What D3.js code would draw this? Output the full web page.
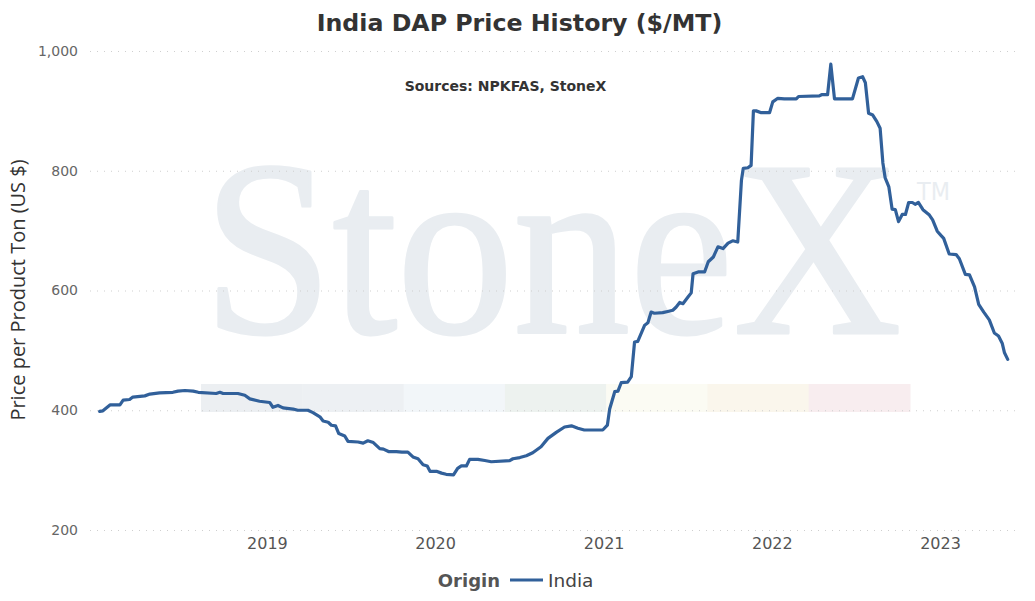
<!DOCTYPE html>
<html>
<head>
<meta charset="utf-8">
<script src="https://cdn.jsdelivr.net/npm/d3@7"></script>
<style>
  html, body { margin: 0; padding: 0; background: #fff; }
  svg { display: block; }
</style>
</head>
<body>
<svg id="chart" width="1035" height="601"></svg>
<script>
// ---- Data ----
const dates = [
  "2018-01-03","2018-01-10","2018-01-26","2018-02-16","2018-02-23","2018-03-09","2018-03-16","2018-04-11","2018-04-22","2018-05-13",
  "2018-06-11","2018-06-22","2018-07-07","2018-07-25","2018-08-05","2018-09-13","2018-09-21","2018-09-28","2018-10-30","2018-11-14",
  "2018-11-25","2018-12-16","2019-01-07","2019-01-14","2019-01-25","2019-02-05","2019-02-27","2019-03-09","2019-03-31","2019-04-11",
  "2019-04-26","2019-05-03","2019-05-14","2019-05-21","2019-05-30","2019-06-06","2019-06-19","2019-06-26","2019-07-18","2019-07-29",
  "2019-08-08","2019-08-20","2019-09-03","2019-09-11","2019-09-22","2019-10-09","2019-10-21","2019-11-03","2019-11-14","2019-11-25",
  "2019-12-06","2019-12-15","2019-12-21","2020-01-04","2020-01-15","2020-01-25","2020-02-10","2020-02-19","2020-02-27","2020-03-09",
  "2020-03-16","2020-04-03","2020-04-18","2020-05-02","2020-06-11","2020-06-18","2020-07-03","2020-07-17","2020-07-31","2020-08-18",
  "2020-09-02","2020-09-20","2020-10-08","2020-10-23","2020-11-06","2020-11-20","2020-12-30","2021-01-09","2021-01-14","2021-01-25",
  "2021-02-01","2021-02-08","2021-02-22","2021-03-02","2021-03-09","2021-03-16","2021-03-31","2021-04-07","2021-04-14","2021-04-21",
  "2021-05-09","2021-05-20","2021-05-31","2021-06-07","2021-06-15","2021-06-22","2021-07-03","2021-07-10","2021-07-14","2021-07-25",
  "2021-08-08","2021-08-16","2021-08-27","2021-09-06","2021-09-17","2021-09-28","2021-10-08","2021-10-19","2021-10-27","2021-10-31",
  "2021-11-10","2021-11-17","2021-11-22","2021-11-28","2021-12-09","2021-12-27","2022-01-03","2022-01-14","2022-01-28","2022-02-23",
  "2022-02-28","2022-04-14","2022-04-19","2022-05-02","2022-05-09","2022-05-17","2022-06-25","2022-07-08","2022-07-17","2022-07-23",
  "2022-07-30","2022-08-08","2022-08-17","2022-08-24","2022-08-30","2022-09-04","2022-09-12","2022-09-19","2022-09-26","2022-10-03",
  "2022-10-11","2022-10-18","2022-10-25","2022-11-02","2022-11-08","2022-11-15","2022-11-25","2022-12-09","2022-12-16","2022-12-26",
  "2023-01-03","2023-01-09","2023-01-21","2023-02-05","2023-02-12","2023-02-25","2023-03-06","2023-03-17","2023-03-26","2023-04-06",
  "2023-04-18","2023-04-29","2023-05-08","2023-05-16","2023-05-21","2023-05-28"
];
const prices = [
  398,399,409,409,417,418,422,424,427,429,
  430,432,433,432,430,428,430,428,428,425,
  419,415,413,405,408,404,402,400,400,396,
  389,382,380,375,374,361,357,348,347,345,
  349,346,336,335,331,331,330,330,322,319,
  309,307,298,298,295,293,292,303,307,307,
  318,318,316,314,316,319,321,324,329,339,
  353,363,372,374,370,367,367,375,402,431,
  432,446,447,456,514,515,542,546,564,562,
  563,565,567,572,580,578,589,596,628,631,
  631,648,656,673,670,679,683,681,784,804,
  805,809,900,900,897,897,915,921,920,920,
  924,925,927,927,978,920,920,955,957,947,
  896,893,882,871,813,788,773,736,735,715,
  727,727,747,747,744,747,735,726,718,699,
  692,687,661,660,653,627,626,606,577,564,
  551,529,524,512,496,485
];
const seriesName = "India";
const yTicks = [200, 400, 600, 800, 1000];
const xTickYears = [2019, 2020, 2021, 2022, 2023];
const titleText = "India DAP Price History ($/MT)";
const subtitleText = "Sources: NPKFAS, StoneX";
const yAxisTitle = "Price per Product Ton (US $)";
const legendTitle = "Origin";
const watermarkText = "StoneX";
const watermarkMark = "TM";
const bandColors = ["#eceff2", "#edf0f3", "#f2f6f9", "#edf2ef", "#fbfbf3", "#faf6ec", "#f8edef"];

// ---- Layout ----
const svg = d3.select("#chart");
const plotLeft = 90, plotRight = 1020, plotTop = 51, plotBottom = 530;
const lineColor = "#31609a";
const wmColor = "#e9edf1";

const x = d3.scaleUtc()
  .domain([new Date(Date.UTC(2018, 0, 1)), new Date(Date.UTC(2023, 0, 1))])
  .range([98.75, 940]);
const y = d3.scaleLinear().domain([200, 1000]).range([plotBottom, plotTop]);

const data = dates.map((d, i) => ({ date: new Date(d + "T00:00:00Z"), value: prices[i] }));

// ---- Watermark: colored band + StoneX text ----
const band = d3.scaleBand().domain(d3.range(bandColors.length)).range([201, 910]);
svg.append("g").selectAll("rect").data(bandColors).join("rect")
  .attr("x", (d, i) => band(i))
  .attr("width", band.bandwidth() + 0.5)
  .attr("y", 384).attr("height", 28)
  .attr("fill", d => d);

const wm = svg.append("text")
  .attr("transform", "translate(203,333) scale(0.931,1)")
  .attr("font-family", "'Liberation Serif', 'Times New Roman', serif")
  .attr("font-size", 250)
  .attr("fill", wmColor)
  .attr("stroke", wmColor)
  .attr("stroke-width", 3)
  .attr("stroke-linejoin", "round");
wm.append("tspan").text(watermarkText);
wm.append("tspan")
  .attr("dx", 17).attr("dy", -133)
  .attr("font-family", "'DejaVu Sans', sans-serif")
  .attr("font-size", 24)
  .attr("stroke-width", 0)
  .text(watermarkMark);

// ---- Gridlines ----
svg.append("g").selectAll("line").data(yTicks).join("line")
  .attr("x1", plotLeft).attr("x2", plotRight)
  .attr("y1", d => y(d) + 0.5).attr("y2", d => y(d) + 0.5)
  .attr("stroke", "#cfcfcf")
  .attr("stroke-width", 1)
  .attr("stroke-dasharray", "1,6");

// ---- Axes ----
const yAxis = svg.append("g")
  .attr("transform", `translate(80,0)`)
  .call(d3.axisLeft(y).tickValues(yTicks).tickFormat(d3.format(",")).tickSize(0).tickPadding(2));
yAxis.select(".domain").remove();
yAxis.selectAll("text")
  .attr("font-family", "'DejaVu Sans', Verdana, sans-serif")
  .attr("font-size", 14)
  .attr("fill", "#666");

const xAxis = svg.append("g")
  .attr("transform", `translate(0,${plotBottom})`)
  .call(d3.axisBottom(x)
    .tickValues(xTickYears.map(yr => new Date(Date.UTC(yr, 0, 1))))
    .tickFormat(d3.utcFormat("%Y")).tickSize(0).tickPadding(8));
xAxis.select(".domain").remove();
xAxis.selectAll("text")
  .attr("font-family", "'DejaVu Sans', Verdana, sans-serif")
  .attr("font-size", 16)
  .attr("fill", "#555");

// ---- Line ----
const line = d3.line().x(d => x(d.date)).y(d => y(d.value));
svg.append("path")
  .datum(data)
  .attr("d", line)
  .attr("fill", "none")
  .attr("stroke", lineColor)
  .attr("stroke-width", 3.2)
  .attr("stroke-linejoin", "round")
  .attr("stroke-linecap", "round");

// ---- Titles ----
svg.append("text")
  .attr("x", 519.5).attr("y", 31)
  .attr("text-anchor", "middle")
  .attr("font-family", "'DejaVu Sans', Verdana, sans-serif")
  .attr("font-weight", "bold")
  .attr("font-size", 23.7)
  .attr("fill", "#333")
  .text(titleText);

svg.append("text")
  .attr("x", 505.5).attr("y", 90.5)
  .attr("text-anchor", "middle")
  .attr("font-family", "'DejaVu Sans', Verdana, sans-serif")
  .attr("font-weight", "bold")
  .attr("font-size", 14)
  .attr("fill", "#333")
  .text(subtitleText);

svg.append("text")
  .attr("transform", "translate(25,290) rotate(-90)")
  .attr("text-anchor", "middle")
  .attr("font-family", "'Open Sans', sans-serif")
  .attr("font-size", 20)
  .attr("fill", "#333")
  .text(yAxisTitle);

// ---- Legend ----
const legend = svg.append("g");
legend.append("text")
  .attr("x", 500).attr("y", 587)
  .attr("text-anchor", "end")
  .attr("font-family", "'DejaVu Sans', Verdana, sans-serif")
  .attr("font-weight", "bold")
  .attr("font-size", 18)
  .attr("fill", "#555")
  .text(legendTitle);
legend.append("line")
  .attr("x1", 510).attr("x2", 543)
  .attr("y1", 580).attr("y2", 580)
  .attr("stroke", lineColor)
  .attr("stroke-width", 3);
legend.append("text")
  .attr("x", 548).attr("y", 587)
  .attr("font-family", "'DejaVu Sans', Verdana, sans-serif")
  .attr("font-size", 18.5)
  .attr("fill", "#444")
  .text(seriesName);
</script>
</body>
</html>
